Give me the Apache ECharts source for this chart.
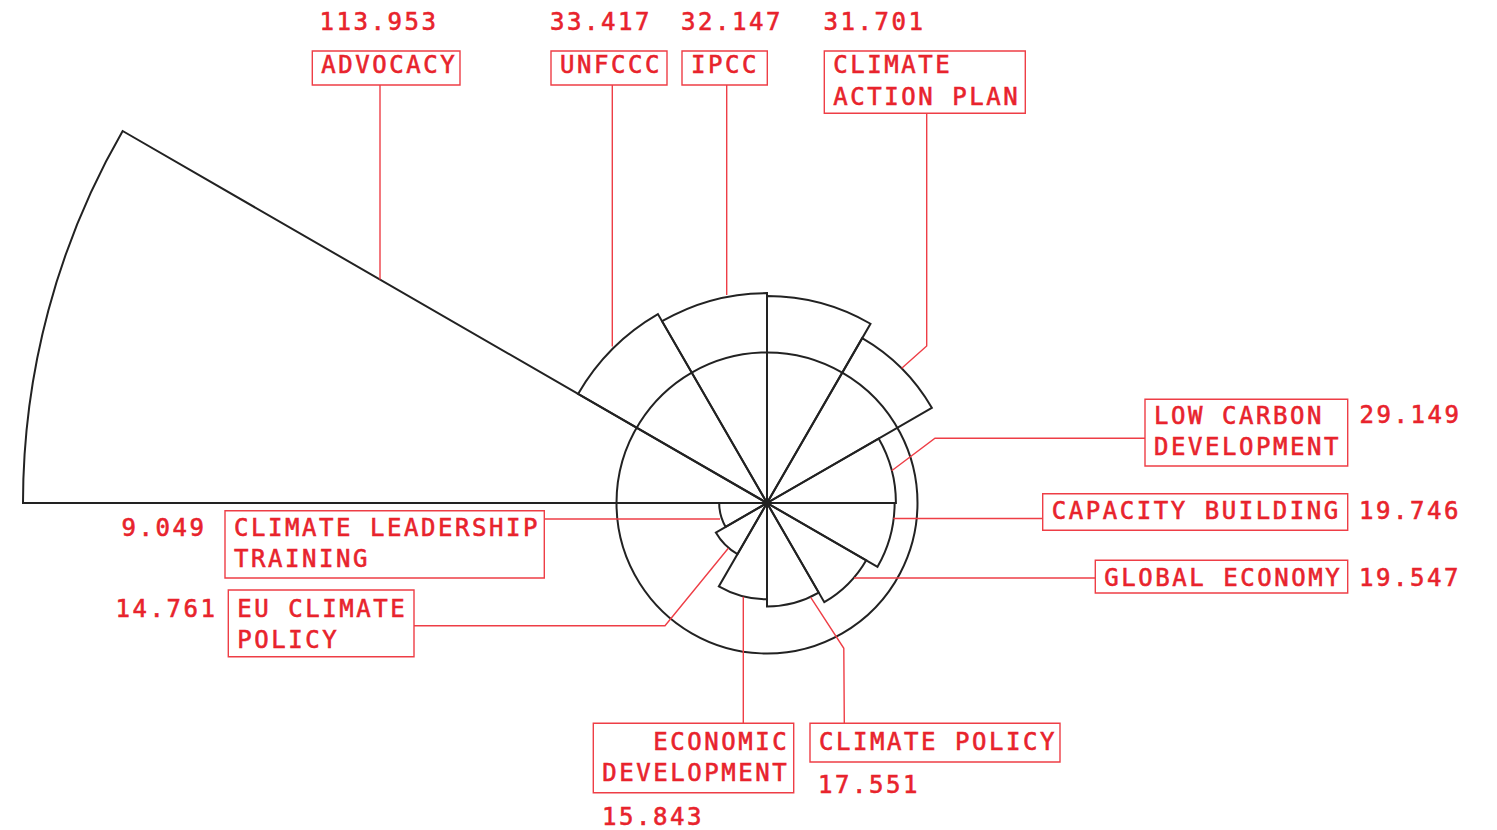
<!DOCTYPE html>
<html>
<head>
<meta charset="utf-8">
<script src="https://cdn.jsdelivr.net/npm/echarts@6/dist/echarts.min.js"></script>
<style>
html,body{margin:0;padding:0;background:#ffffff;}
#chart{width:1497px;height:830px;}
#chart svg text{letter-spacing:2.55px;}
</style>
</head>
<body>
<div id="chart"></div>
<script>
// ---------------- data ----------------
const CATEGORIES = [
  'ADVOCACY', 'UNFCCC', 'IPCC', 'CLIMATE ACTION PLAN', 'LOW CARBON DEVELOPMENT',
  'CAPACITY BUILDING', 'GLOBAL ECONOMY', 'CLIMATE POLICY', 'ECONOMIC DEVELOPMENT',
  'EU CLIMATE POLICY', 'CLIMATE LEADERSHIP TRAINING', ''
];
const VALUES = [
  113.953, 33.417, 32.147, 31.701, 29.149,
  19.746, 19.547, 17.551, 15.843,
  14.761, 9.049, 7.32
];
const REF_RING_VALUE = 23.05;   // reference circle drawn at this value
const RADIUS_MAX = 113.953;     // radius-axis maximum

// ---------------- layout / style ----------------
const CENTER = [767, 503];
const OUTER_R = 744;
const RED = '#e8232c';
const RED_LINE = '#ee3e46';
const INK = '#222222';
const FONT = "'DejaVu Sans Mono', monospace";
const FS = 24;
const PITCH = 17;
const LINE_GAP = 31.5;

// per-category label placement (index matched to CATEGORIES)
const LABEL_LAYOUT = [
  {box:[312.3, 51, 147.7, 34],    ty:65,    wrap:30, val:[319.5, 22],    lead:[[380,85],[380,279.5]]},
  {box:[551, 51, 116, 34],        ty:65,    wrap:30, val:[550, 22],      lead:[[612.3,85],[612.3,346.5]]},
  {box:[682, 51, 85.3, 34],       ty:65,    wrap:30, val:[681, 22],      lead:[[726.7,85],[726.7,295]]},
  {box:[824.3, 51, 201, 62.3],    ty:65,    wrap:11, val:[823.5, 22],    lead:[[926.7,113.3],[926.7,346],[901.7,368.3]]},
  {box:[1145, 399.3, 202.7, 66.7],ty:415.5, wrap:11, val:[1359.5, 415.3],lead:[[1145,438.3],[935,438.3],[891.7,470.7]]},
  {box:[1042.7, 493.7, 305, 36.6],ty:510.7, wrap:30, val:[1359, 510.7], lead:[[1042.7,518.5],[893.3,518.5]]},
  {box:[1095.3, 560.3, 252.4, 32.7],ty:577.8,wrap:30, val:[1359, 577.8], lead:[[1095.3,578],[854,578]]},
  {box:[810, 723.3, 250, 38.7],   ty:741.7, wrap:30, val:[818, 785.3],   lead:[[844.3,723.3],[843.8,648.3],[810.7,597.3]]},
  {box:[593.3, 723.3, 200.4, 69.4],ty:741.7,wrap:11, right:true, val:[602, 816.7], lead:[[743.3,723.3],[743.3,596.7]]},
  {box:[228.3, 590, 185.7, 66.7], ty:608.7, wrap:10, val:[115.5, 608.7], lead:[[414,625.7],[665,625.7],[728.3,548.3]]},
  {box:[225, 510.7, 319.3, 67.3], ty:527.8, wrap:18, val:[121.5, 527.8], lead:[[544.3,519],[720,519]]},
  null
];

function wrapWords(text, maxChars) {
  const words = text.split(' ');
  const lines = [];
  let cur = '';
  words.forEach(w => {
    const next = cur ? cur + ' ' + w : w;
    if (next.length > maxChars && cur) { lines.push(cur); cur = w; }
    else cur = next;
  });
  if (cur) lines.push(cur);
  return lines;
}

function textEl(str, x, y) {
  return {
    type: 'text', x: x, y: y, silent: true, z: 10,
    style: {
      text: str, fill: RED, stroke: RED, lineWidth: 0.6,
      fontSize: FS, fontFamily: FONT, fontWeight: 'normal',
      textAlign: 'left', textVerticalAlign: 'middle'
    }
  };
}

const graphics = [];
CATEGORIES.forEach((name, i) => {
  const L = LABEL_LAYOUT[i];
  if (!L || !name) return;
  const [bx, by, bw, bh] = L.box;
  graphics.push({
    type: 'polyline', silent: true, z: 9,
    shape: {points: L.lead},
    style: {stroke: RED_LINE, lineWidth: 1.4, fill: 'none'}
  });
  graphics.push({
    type: 'rect', silent: true, z: 9,
    shape: {x: bx, y: by, width: bw, height: bh},
    style: {stroke: RED_LINE, lineWidth: 1.4, fill: 'none'}
  });
  const lines = wrapWords(name, L.wrap);
  const maxLen = Math.max.apply(null, lines.map(s => s.length));
  lines.forEach((s, k) => {
    const offset = L.right ? (maxLen - s.length) * PITCH : 0;
    graphics.push(textEl(s, bx + 9 + offset, L.ty + k * LINE_GAP));
  });
  graphics.push(textEl(VALUES[i].toFixed(3), L.val[0], L.val[1]));
});

const ringRadius = REF_RING_VALUE / RADIUS_MAX * OUTER_R;

const chart = echarts.init(document.getElementById('chart'), null, {renderer: 'svg'});
chart.setOption({
  backgroundColor: '#ffffff',
  animation: false,
  polar: [
    {center: CENTER, radius: OUTER_R},
    {center: CENTER, radius: ringRadius}
  ],
  angleAxis: [
    {polarIndex: 0, type: 'category', data: CATEGORIES, startAngle: 180, clockwise: true,
     axisLine: {show: false}, axisTick: {show: false}, axisLabel: {show: false}, splitLine: {show: false}},
    {polarIndex: 1, type: 'category', data: CATEGORIES, startAngle: 180, clockwise: true,
     axisLine: {show: true, lineStyle: {color: INK, width: 2}},
     axisTick: {show: false}, axisLabel: {show: false}, splitLine: {show: false}}
  ],
  radiusAxis: [
    {polarIndex: 0, type: 'value', min: 0, max: RADIUS_MAX,
     axisLine: {show: false}, axisTick: {show: false}, axisLabel: {show: false}, splitLine: {show: false}},
    {polarIndex: 1, type: 'value', min: 0, max: 1,
     axisLine: {show: false}, axisTick: {show: false}, axisLabel: {show: false}, splitLine: {show: false}}
  ],
  series: [{
    type: 'bar',
    coordinateSystem: 'polar',
    polarIndex: 0,
    data: VALUES,
    barCategoryGap: '0%',
    silent: true,
    itemStyle: {color: 'rgba(255,255,255,0)', borderColor: INK, borderWidth: 2}
  }],
  graphic: {elements: graphics}
});
</script>
</body>
</html>
